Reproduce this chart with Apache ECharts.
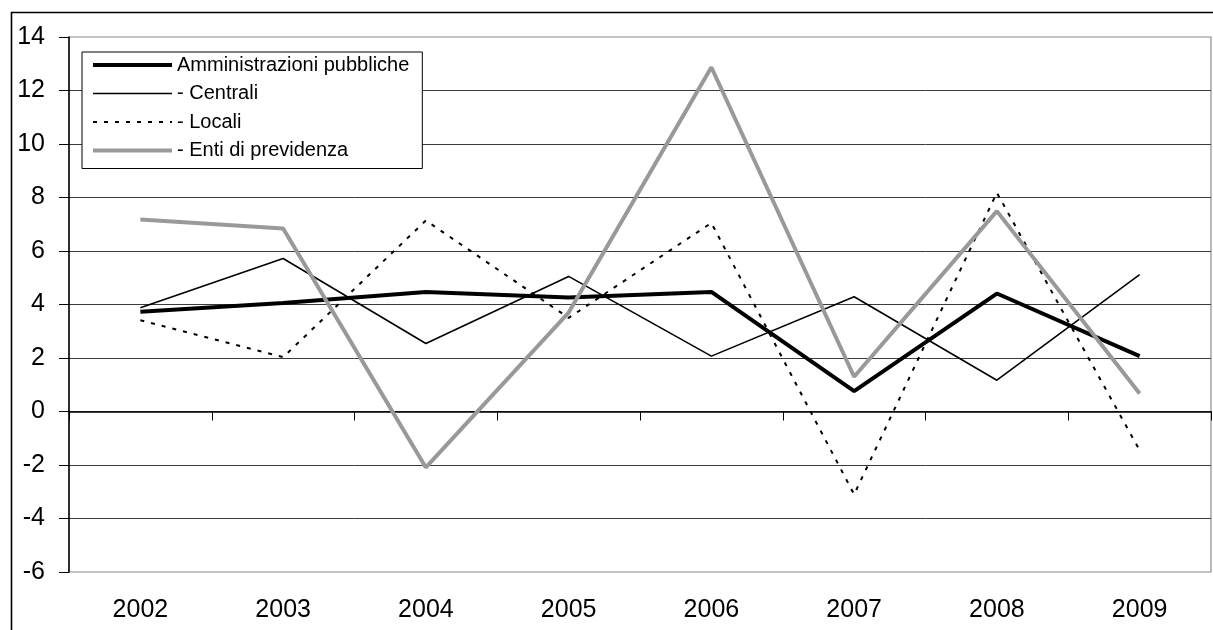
<!DOCTYPE html>
<html>
<head>
<meta charset="utf-8">
<script src="https://cdn.jsdelivr.net/npm/echarts@6/dist/echarts.min.js"></script>
<style>
html,body{margin:0;padding:0;background:#fff;}
#chart{width:1213px;height:630px;}
</style>
</head>
<body>
<div id="chart"></div>
<script>
const categories = ['2002','2003','2004','2005','2006','2007','2008','2009'];
const seriesNames = ['Amministrazioni pubbliche','- Centrali','- Locali','- Enti di previdenza'];
const ammPubbliche = [3.73, 4.06, 4.47, 4.26, 4.47, 0.76, 4.41, 2.07];
const centrali = [3.88, 5.72, 2.54, 5.05, 2.07, 4.29, 1.17, 5.12];
const locali = [3.41, 2.03, 7.14, 3.5, 7.05, -3.1, 8.18, -1.45];
const entiPrevidenza = [7.18, 6.84, -2.09, 3.7, 12.87, 1.30, 7.49, 0.67];
const yMin = -6, yMax = 14, yStep = 2;

const FONT = 'Liberation Sans, Arial, sans-serif';
const styles = [
  {color: '#000', width: 4, type: 'solid'},
  {color: '#000', width: 1.6, type: 'solid'},
  {color: '#000', width: 2, type: [4, 7]},
  {color: '#999999', width: 4, type: 'solid'}
];
const seriesData = [ammPubbliche, centrali, locali, entiPrevidenza];

const chart = echarts.init(document.getElementById('chart'), null, {renderer:'canvas'});
chart.setOption({
  animation: false,
  backgroundColor: '#fff',
  graphic: [{
    type: 'rect', z: 100, silent: true,
    shape: {x: 11.5, y: 12.5, width: 1400, height: 800},
    style: {fill: 'none', stroke: '#000', lineWidth: 1.6}
  }],
  grid: {
    left: 69, top: 37, right: 2, bottom: 58,
    show: true, borderColor: '#8c8c8c', borderWidth: 1.2, backgroundColor: 'transparent'
  },
  legend: {
    orient: 'vertical', left: 82, top: 52,
    padding: [3, 13, 8, 9],
    backgroundColor: '#fff', borderColor: '#000', borderWidth: 1,
    itemWidth: 79, itemHeight: 14, itemGap: 8.5,
    itemStyle: {color: 'transparent', borderWidth: 0, opacity: 0},
    textStyle: {fontFamily: FONT, fontSize: 20, color: '#000', lineHeight: 20},
    data: seriesNames.map((n, i) => ({
      name: n,
      itemStyle: {color: 'transparent', borderWidth: 0, opacity: 0},
      lineStyle: {color: styles[i].color, width: styles[i].width, type: styles[i].type}
    }))
  },
  xAxis: [{
    type: 'category', data: categories, boundaryGap: true,
    axisLine: {onZero: true, lineStyle: {color: '#000', width: 1.5}},
    axisTick: {show: true, interval: 0, length: 9, inside: false, lineStyle: {color: '#000', width: 1}},
    axisLabel: {show: false},
    splitLine: {show: false}
  }, {
    type: 'category', data: categories, boundaryGap: true, position: 'bottom',
    axisLine: {show: false, onZero: false},
    axisTick: {show: false},
    axisLabel: {show: true, interval: 0, margin: 26, fontFamily: FONT, fontSize: 25, color: '#000'},
    splitLine: {show: false}
  }],
  yAxis: {
    type: 'value', min: yMin, max: yMax, interval: yStep,
    axisLine: {show: true, lineStyle: {color: '#000', width: 1.5}},
    axisTick: {show: true, length: 10, inside: false, lineStyle: {color: '#000', width: 1}},
    axisLabel: {margin: 24, fontFamily: FONT, fontSize: 25, color: '#000'},
    splitLine: {show: true, showMinLine: false, showMaxLine: false, lineStyle: {color: '#3a3a3a', width: 1}}
  },
  series: seriesNames.map((n, i) => ({
    name: n, type: 'line', data: seriesData[i], xAxisIndex: 0,
    symbol: 'none', showSymbol: false,
    lineStyle: {color: styles[i].color, width: styles[i].width, type: styles[i].type},
    itemStyle: {color: styles[i].color}
  }))
});
</script>
</body>
</html>
